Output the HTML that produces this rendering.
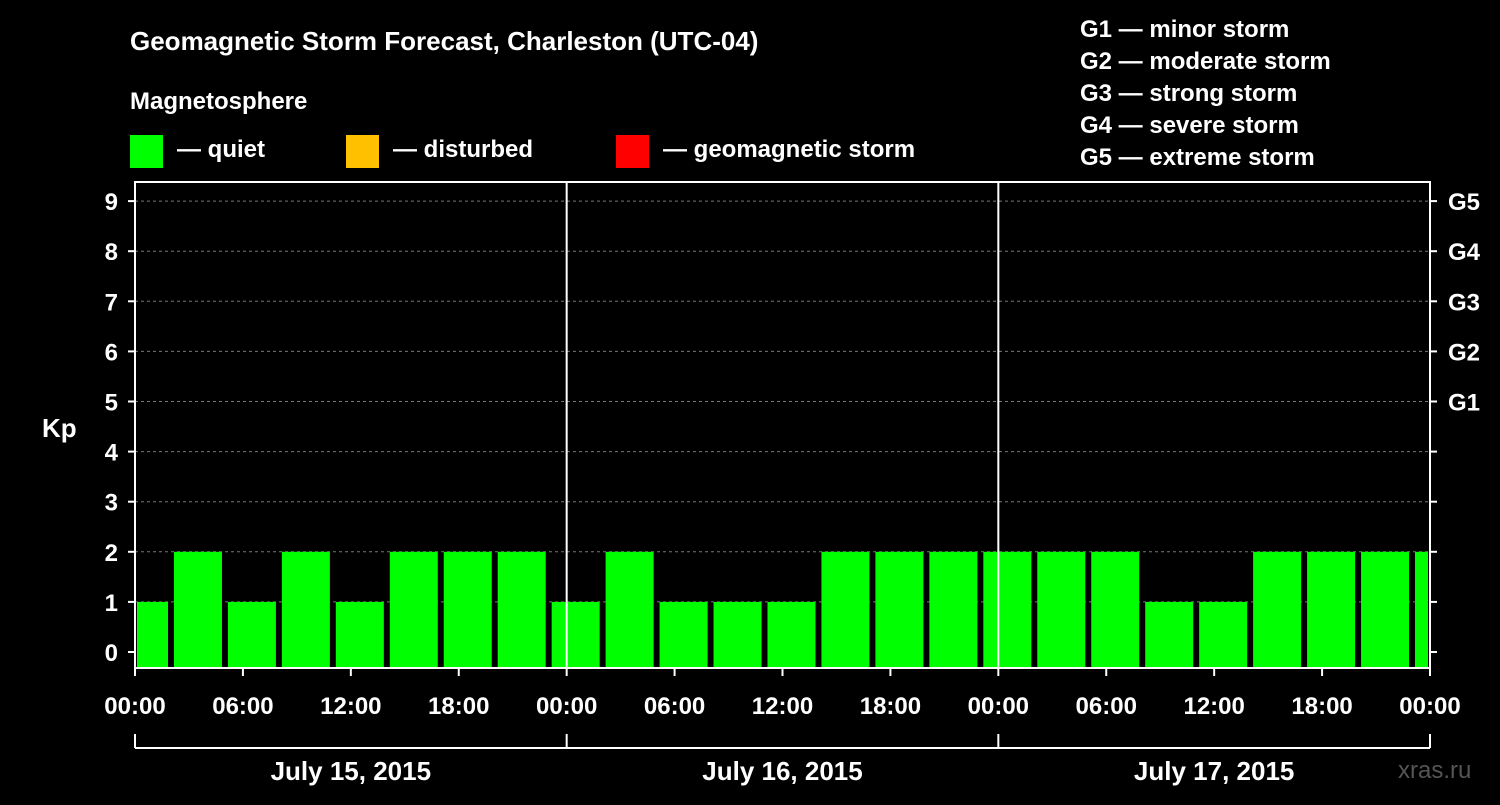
<!DOCTYPE html>
<html><head><meta charset="utf-8"><style>
body{margin:0;background:#000;width:1500px;height:800px;overflow:hidden;font-family:"Liberation Sans",sans-serif}
svg text{font-family:"Liberation Sans",sans-serif;font-weight:bold;fill:#fff}
</style></head><body>
<svg id="c" width="1500" height="800" xmlns="http://www.w3.org/2000/svg">
<text x="130" y="50" font-size="26">Geomagnetic Storm Forecast, Charleston (UTC-04)</text>
<text x="130" y="109" font-size="24">Magnetosphere</text>
<rect x="130" y="135" width="33" height="33" fill="#00ff00"/>
<text x="177" y="157" font-size="24">— quiet</text>
<rect x="346" y="135" width="33" height="33" fill="#ffc000"/>
<text x="393" y="157" font-size="24">— disturbed</text>
<rect x="616" y="135" width="33" height="33" fill="#ff0000"/>
<text x="663" y="157" font-size="24">— geomagnetic storm</text>
<g font-size="24">
<text x="1080" y="37">G1 — minor storm</text>
<text x="1080" y="69">G2 — moderate storm</text>
<text x="1080" y="101">G3 — strong storm</text>
<text x="1080" y="133">G4 — severe storm</text>
<text x="1080" y="165">G5 — extreme storm</text>
</g>
<text x="42" y="437" font-size="26">Kp</text>
<text x="1398" y="778" font-size="24" fill="#555" style="fill:#555;font-weight:normal">xras.ru</text>
<g id="plot"></g>
</svg>
<script>
const kpValues=[1,2,1,2,1,2,2,2,1,2,1,1,1,2,2,2,2,2,2,1,1,2,2,2,2];
const barStartHours=[0.5,3.5,6.5,9.5,12.5,15.5,18.5,21.5,24.5,27.5,30.5,33.5,36.5,39.5,42.5,45.5,48.5,51.5,54.5,57.5,60.5,63.5,66.5,69.5,72.5];
const yTicks=[0,1,2,3,4,5,6,7,8,9];
const gLabels=["G1","G2","G3","G4","G5"];
const xTickLabels=["00:00","06:00","12:00","18:00","00:00","06:00","12:00","18:00","00:00","06:00","12:00","18:00","00:00"];
const dayLabels=["July 15, 2015","July 16, 2015","July 17, 2015"];
const NS="http://www.w3.org/2000/svg";
const L=135,R=1430,T=182,B=668;
const x=h=>L+h*(R-L)/72;
const y=v=>652-v*50.1;
const g=document.getElementById('plot');
function mk(t,a){const e=document.createElementNS(NS,t);for(const k in a)e.setAttribute(k,a[k]);g.appendChild(e);return e;}
const cp=mk('clipPath',{id:'cl'});g.removeChild(cp);
const cr=document.createElementNS(NS,'rect');cr.setAttribute('x',137);cr.setAttribute('y',T);cr.setAttribute('width',1291);cr.setAttribute('height',B-T);cp.appendChild(cr);g.appendChild(cp);
yTicks.forEach(v=>{if(v>0){const l=mk('line',{x1:L,x2:R,y1:y(v),y2:y(v),stroke:'#777','stroke-dasharray':'3,3','stroke-width':1});

}
const t=mk('text',{x:118,y:y(v)+9,'font-size':24,'text-anchor':'end'});t.textContent=v;


mk('line',{x1:L-7,x2:L,y1:y(v),y2:y(v),stroke:'#fff','stroke-width':2});
mk('line',{x1:R,x2:R+7,y1:y(v),y2:y(v),stroke:'#fff','stroke-width':2});});
gLabels.forEach((s,i)=>{const t=mk('text',{x:1448,y:y(5+i)+9,'font-size':24});t.textContent=s;

});
kpValues.forEach((v,i)=>{const c=barStartHours[i];const r=mk('rect',{x:x(c)-24,y:y(v),width:48,height:B-y(v),fill:v>=5?'#ff0000':v>=4?'#ffc000':'#00ff00','clip-path':'url(#cl)'});

});
mk('rect',{x:L,y:T,width:R-L,height:B-T,fill:'none',stroke:'#fff','stroke-width':2});
[24,48].forEach(h=>mk('line',{x1:x(h),x2:x(h),y1:T,y2:B,stroke:'#fff','stroke-width':2}));
xTickLabels.forEach((s,i)=>{const xx=x(i*6);mk('line',{x1:xx,x2:xx,y1:B,y2:B+8,stroke:'#fff','stroke-width':2});
const t=mk('text',{x:xx,y:714,'font-size':24,'text-anchor':'middle'});t.textContent=s;

});
mk('line',{x1:L,x2:R,y1:748,y2:748,stroke:'#fff','stroke-width':2});
[0,24,48,72].forEach(h=>mk('line',{x1:x(h),x2:x(h),y1:734,y2:748,stroke:'#fff','stroke-width':2}));
dayLabels.forEach((s,i)=>{const t=mk('text',{x:x(i*24+12),y:780,'font-size':26,'text-anchor':'middle'});t.textContent=s;

});
</script>
</body></html>
